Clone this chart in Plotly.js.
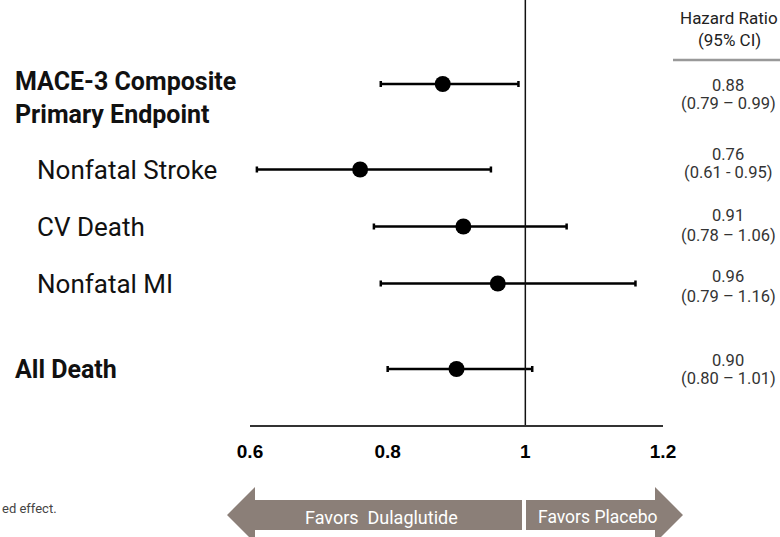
<!DOCTYPE html>
<html>
<head>
<meta charset="utf-8">
<script src="https://cdn.plot.ly/plotly-3.0.1.min.js"></script>
<style>html,body{margin:0;padding:0;background:#fff;}#chart{width:780px;height:537px;}</style>
</head>
<body>
<div id="chart"></div>
<script>
// ---- data ----
var outcomes = ["MACE-3 Composite<br>Primary Endpoint", "Nonfatal Stroke", "CV Death", "Nonfatal MI", "All Death"];
var isMain = [true, false, false, false, true];
var hr = [0.88, 0.76, 0.91, 0.96, 0.90];
var ciLow = [0.79, 0.61, 0.78, 0.79, 0.80];
var ciHigh = [0.99, 0.95, 1.06, 1.16, 1.01];
var hrText = ["0.88", "0.76", "0.91", "0.96", "0.90"];
var ciText = ["(0.79 – 0.99)", "(0.61 - 0.95)", "(0.78 – 1.06)", "(0.79 – 1.16)", "(0.80 – 1.01)"];
var tickVals = [0.6, 0.8, 1, 1.2];
var tickText = ["0.6", "0.8", "1", "1.2"];

// ---- layout helpers ----
var W = 780, H = 537;
var M = {l: 250, r: 117, t: 0, b: 112};
var PW = W - M.l - M.r, PH = H - M.t - M.b;
function px(x) { return (x - M.l) / PW; }
function py(y) { return 1 - (y - M.t) / PH; }

// row positions: extra half-row gap around main rows
var ypos = [];
var acc = 0;
for (var i = 0; i < outcomes.length; i++) {
  if (i > 0) acc += 1 + ((isMain[i] || isMain[i - 1]) ? 0.5 : 0);
  ypos.push(acc);
}

var trace = {
  type: "scatter",
  mode: "markers",
  x: hr,
  y: ypos,
  marker: {size: 16, color: "#000"},
  error_x: {
    type: "data",
    symmetric: false,
    array: hr.map(function (v, i) { return ciHigh[i] - v; }),
    arrayminus: hr.map(function (v, i) { return v - ciLow[i]; }),
    color: "#000",
    thickness: 2.5,
    width: 3
  },
  hoverinfo: "skip"
};

var annotations = [];
var labelFont = "Roboto, 'DejaVu Sans', sans-serif";
// vertical pixel offsets of the two text lines in the right column (style only)
var hrShift = [1, -15, -11, -7, -9];
var ciShift = [19, 3, 9, 13, 9];
outcomes.forEach(function (lab, i) {
  var main = isMain[i];
  annotations.push({
    xref: "paper", yref: "y",
    x: px(main ? 13 : 35), y: ypos[i],
    xanchor: "left", yanchor: "middle",
    yshift: lab.indexOf("<br>") >= 0 ? -14 : 0,
    text: main ? "<b>" + lab + "</b>" : lab,
    showarrow: false, align: "left",
    font: {family: labelFont, size: main ? 25 : 26, color: "#111"}
  });
  annotations.push({
    xref: "paper", yref: "y",
    x: px(728), y: ypos[i],
    xanchor: "center", yanchor: "middle",
    yshift: -hrShift[i],
    text: hrText[i],
    showarrow: false, align: "center",
    font: {family: labelFont, size: 16.5, color: "#333"}
  });
  annotations.push({
    xref: "paper", yref: "y",
    x: px(728), y: ypos[i],
    xanchor: "center", yanchor: "middle",
    yshift: -ciShift[i],
    text: ciText[i],
    showarrow: false, align: "center",
    font: {family: labelFont, size: 16.5, color: "#333"}
  });
});
annotations.push({
  xref: "paper", yref: "paper", x: px(729), y: py(18),
  xanchor: "center", yanchor: "middle",
  text: "Hazard Ratio", showarrow: false, align: "center",
  font: {family: labelFont, size: 17, color: "#222"}
});
annotations.push({
  xref: "paper", yref: "paper", x: px(729), y: py(40),
  xanchor: "center", yanchor: "middle",
  text: "(95% CI)", showarrow: false, align: "center",
  font: {family: labelFont, size: 17, color: "#222"}
});
annotations.push({
  xref: "paper", yref: "paper", x: px(0), y: py(508),
  xanchor: "left", yanchor: "middle",
  text: "ed effect.", showarrow: false, align: "left",
  font: {family: labelFont, size: 13, color: "#444"}
});
annotations.push({
  xref: "paper", yref: "paper", x: px(381), y: py(517),
  xanchor: "center", yanchor: "middle",
  text: "Favors  Dulaglutide", showarrow: false,
  font: {family: labelFont, size: 18, color: "#fff"}
});
annotations.push({
  xref: "paper", yref: "paper", x: px(597), y: py(517),
  xanchor: "center", yanchor: "middle",
  text: "Favors Placebo", showarrow: false,
  font: {family: labelFont, size: 17.5, color: "#fff"}
});

function path(pts) {
  return "M" + pts.map(function (p) { return px(p[0]) + "," + py(p[1]); }).join(" L") + " Z";
}
var arrowColor = "#8b7f78";
var shapes = [
  {type: "line", xref: "x", yref: "paper", x0: 1, x1: 1, y0: 0, y1: 1,
   line: {color: "#111", width: 1.5}},
  {type: "path", xref: "paper", yref: "paper", fillcolor: arrowColor, line: {width: 0},
   path: path([[227, 515], [255, 487], [255, 500], [522, 500], [522, 530], [255, 530], [255, 543]])},
  {type: "path", xref: "paper", yref: "paper", fillcolor: arrowColor, line: {width: 0},
   path: path([[526, 500], [655, 500], [655, 487], [683, 515], [655, 543], [655, 530], [526, 530]])},
  {type: "line", xref: "paper", yref: "paper", x0: px(673), x1: px(782), y0: py(60), y1: py(60),
   line: {color: "#999", width: 2.5}}
];

var layout = {
  width: W, height: H,
  margin: M,
  paper_bgcolor: "#fff", plot_bgcolor: "#fff",
  showlegend: false,
  xaxis: {
    range: [0.6, 1.2], tickvals: tickVals, ticktext: tickText,
    showgrid: false, zeroline: false, showline: true, linecolor: "#333", linewidth: 1.5,
    ticks: "", ticklabelstandoff: 9,
    tickfont: {family: "Arial, 'Liberation Sans', sans-serif", size: 19, color: "#000", weight: "bold"},
    fixedrange: true
  },
  yaxis: {
    range: [(425 - 84) / 57, -84 / 57], visible: false, showgrid: false, zeroline: false, fixedrange: true
  },
  shapes: shapes,
  annotations: annotations
};

Plotly.newPlot("chart", [trace], layout, {displayModeBar: false, staticPlot: true});
</script>
</body>
</html>
